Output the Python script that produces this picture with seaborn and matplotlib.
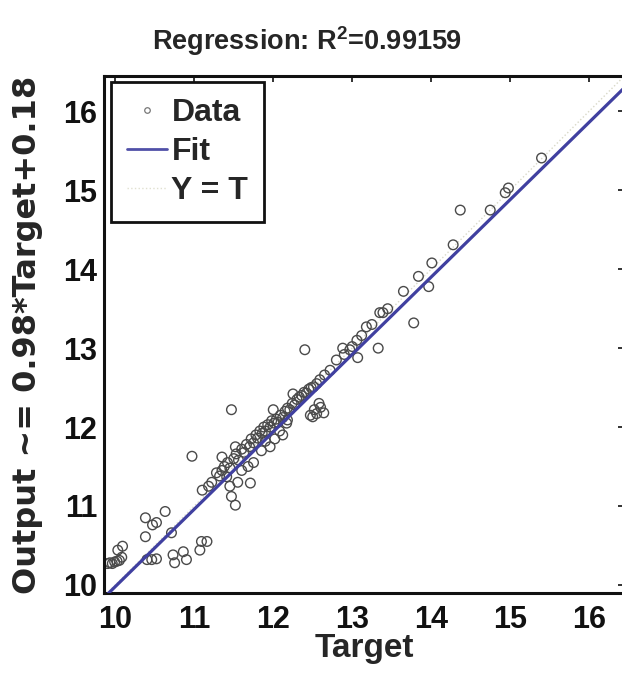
import numpy as np
import pandas as pd
import matplotlib
matplotlib.use("Agg")
import matplotlib.pyplot as plt
from matplotlib.lines import Line2D
import seaborn as sns

# Network targets and the corresponding network outputs
target = [
    9.90, 9.93, 9.96, 9.99, 10.02, 10.05, 10.08, 10.03, 10.09,
    10.38, 10.52, 10.63, 10.38, 10.71, 10.47,
    10.40, 10.46, 10.52, 10.73, 10.75, 10.86, 10.90, 11.07, 11.09, 11.16,
    10.97, 11.47, 12.40,
    11.71, 11.45, 11.47, 11.52, 11.41, 11.75, 11.60, 11.55,
    11.10, 11.18, 11.22, 11.28, 11.32, 11.35, 11.38, 11.42, 11.45, 11.50,
    11.53, 11.56, 11.60, 11.63, 11.66, 11.70, 11.72, 11.75, 11.78, 11.80,
    11.83, 11.86, 11.88, 11.90, 11.93, 11.96, 11.98, 12.01, 12.04, 12.06,
    12.09, 12.12, 12.15, 12.18, 12.21, 12.24, 12.27, 12.30, 12.33, 12.36,
    12.39, 12.42, 12.45, 12.48, 12.51, 12.55, 12.59, 12.65, 12.72,
    11.96, 12.02, 12.08, 12.18, 12.12, 11.85, 11.68, 11.90,
    12.00, 11.52, 11.35, 12.25,
    12.47, 12.52, 12.55, 12.60, 12.64, 12.58, 12.50, 12.17,
    12.88, 12.97, 13.07, 13.06, 13.18, 13.35, 13.39, 13.33, 12.80, 12.90,
    13.00, 13.12, 13.25, 13.45,
    13.65, 13.78, 13.84, 13.97, 14.01, 14.28, 14.37, 14.75, 14.94, 14.98,
    15.40,
]
output = [
    10.27, 10.28, 10.27, 10.29, 10.30, 10.31, 10.35, 10.44, 10.49,
    10.85, 10.79, 10.93, 10.61, 10.66, 10.76,
    10.32, 10.32, 10.33, 10.38, 10.28, 10.42, 10.32, 10.44, 10.55, 10.55,
    11.63, 12.22, 12.98,
    11.29, 11.25, 11.12, 11.01, 11.37, 11.55, 11.45, 11.30,
    11.20, 11.25, 11.30, 11.42, 11.38, 11.45, 11.50, 11.55, 11.48, 11.60,
    11.66, 11.58, 11.72, 11.68, 11.78, 11.75, 11.85, 11.80, 11.90, 11.86,
    11.95, 11.92, 12.00, 11.95, 12.03, 12.00, 12.08, 12.05, 12.10, 12.06,
    12.15, 12.12, 12.20, 12.24, 12.22, 12.30, 12.28, 12.35, 12.38, 12.40,
    12.44, 12.43, 12.48, 12.50, 12.51, 12.55, 12.60, 12.66, 12.72,
    11.75, 11.85, 11.95, 12.09, 11.90, 11.70, 11.50, 11.82,
    12.22, 11.75, 11.62, 12.42,
    12.15, 12.22, 12.17, 12.25, 12.18, 12.30, 12.13, 12.05,
    13.00, 12.98, 12.88, 13.10, 13.27, 13.45, 13.45, 13.00, 12.85, 12.92,
    13.02, 13.16, 13.30, 13.50,
    13.72, 13.32, 13.91, 13.78, 14.08, 14.31, 14.75, 14.75, 14.97, 15.03,
    15.41,
]

# Linear fit reported on the axis label: Output ~= 0.98*Target + 0.18
fit_slope = 0.98
fit_intercept = 0.18
r_squared = "0.99159"

x_ticks = [10, 11, 12, 13, 14, 15, 16]
y_ticks = [10, 11, 12, 13, 14, 15, 16]
x_lim = (9.855, 16.445)
y_lim = (9.897, 16.45)

sns.set_theme(style="white")
plt.rcParams["font.family"] = ["Liberation Sans", "DejaVu Sans"]
plt.rcParams["font.weight"] = "bold"
plt.rcParams["mathtext.fontset"] = "custom"
plt.rcParams["mathtext.rm"] = "Liberation Sans:bold"
plt.rcParams["mathtext.bf"] = "Liberation Sans:bold"

fig = plt.figure(figsize=(6.22, 6.77), dpi=100)
ax = fig.add_axes([0.1672, 0.1241, 0.836, 0.7637])

points = pd.DataFrame({"Target": target, "Output": output})
line_x = np.array(x_lim)
lines = pd.DataFrame({
    "Target": line_x,
    "Fit": fit_slope * line_x + fit_intercept,
    "Identity": line_x,
})

sns.lineplot(data=lines, x="Target", y="Identity", ax=ax, color="#d8d8c8",
             linestyle=":", linewidth=1.0, zorder=1)
sns.scatterplot(data=points, x="Target", y="Output", ax=ax, marker="o",
                s=48, facecolors="none", edgecolor="#4a4a4a", linewidth=1.0,
                zorder=2)
sns.lineplot(data=lines, x="Target", y="Fit", ax=ax, color="#4040a0",
             linewidth=2.3, zorder=3)

ax.set_xlim(*x_lim)
ax.set_ylim(*y_lim)
ax.set_xticks(x_ticks)
ax.set_yticks(y_ticks)
ax.tick_params(axis="both", which="both", direction="in", length=4, width=1.2,
               top=True, right=True, labelsize=22, colors="#111111")
ax.tick_params(axis="x", pad=9)
ax.tick_params(axis="y", pad=5)
for lab in ax.get_xticklabels() + ax.get_yticklabels():
    lab.set_fontweight("bold")
for sp in ax.spines.values():
    sp.set_color("#111111")
    sp.set_linewidth(2.2)

ax.set_xlabel("Target", fontsize=24, fontweight="bold", labelpad=-2)
ax.set_ylabel("Output ~= 0.98*Target+0.18", fontsize=23, fontweight="bold",
              family=["DejaVu Sans"])
ax.yaxis.set_label_coords(-0.118, 0.5)
fig.text(0.494, 0.94, r"Regression: R$^{\mathbf{2}}$=" + r_squared,
         ha="center", va="center", fontsize=19.5, fontweight="bold")

handles = [
    Line2D([], [], marker="o", linestyle="none", markersize=4,
           markerfacecolor="none", markeredgecolor="#777777",
           markeredgewidth=0.9),
    Line2D([], [], color="#5050a8", linewidth=2.0),
    Line2D([], [], color="#e0e0d0", linewidth=1.0, linestyle=":"),
]
leg = ax.legend(handles, ["Data", "Fit", "Y = T"], loc="upper left",
                bbox_to_anchor=(0.013, 0.988), fontsize=23, handlelength=1.25,
                handletextpad=0.15, borderpad=0.5, labelspacing=0.28,
                borderaxespad=0, fancybox=False, framealpha=1)
leg.get_frame().set_edgecolor("#111111")
leg.get_frame().set_linewidth(2.0)
for t in leg.get_texts():
    t.set_fontweight("bold")

fig.savefig("out.png", dpi=100, facecolor="white")
